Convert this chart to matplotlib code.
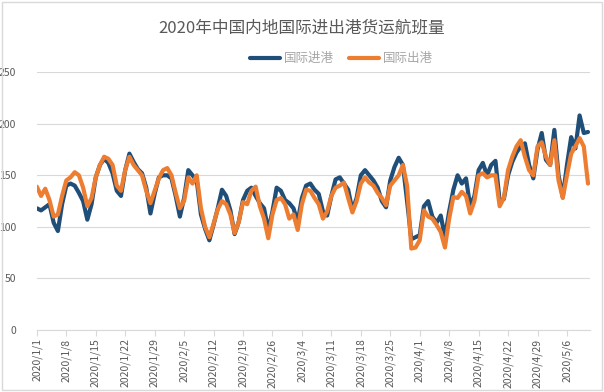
import numpy as np
import pandas as pd
import matplotlib
matplotlib.use("Agg")
import matplotlib.pyplot as plt
from matplotlib.patches import Rectangle

plt.rcParams["font.family"] = ["Noto Sans CJK SC", "DejaVu Sans"]

# 每日航班量，2020/1/1 起
start_date = "2020-01-01"
inbound = [
    118, 116, 119, 122, 104, 96, 122, 140, 142, 140,
    133, 125, 107, 122, 148, 160, 166, 162, 152, 135,
    130, 155, 171, 163, 156, 152, 138, 113, 132, 148,
    150, 150, 147, 130, 110, 128, 155, 150, 145, 112,
    98, 87, 102, 118, 136, 130, 116, 93, 105, 126,
    135, 138, 130, 123, 118, 97, 115, 138, 135, 126,
    123, 118, 105, 128, 140, 142, 136, 132, 115, 111,
    130, 146, 148, 142, 136, 116, 128, 150, 155, 150,
    145, 138, 125, 119, 145, 158, 167, 160, 125, 88,
    90, 92, 120, 125, 110, 104, 111, 90, 115, 136,
    150, 142, 147, 120, 130, 155, 162, 150, 160, 164,
    125, 127, 150, 163, 172, 178, 181, 160, 147, 175,
    191, 165, 160, 194, 150, 129, 160, 187, 176, 208,
    191, 192,
]
outbound = [
    139, 130, 137, 126, 110, 112, 130, 145, 148, 153,
    150, 138, 120, 128, 148, 160, 168, 166, 160, 140,
    135, 155, 168, 160, 155, 150, 135, 123, 135, 147,
    155, 157, 150, 133, 118, 125, 148, 142, 150, 118,
    100, 90, 103, 117, 125, 122, 112, 94, 105, 124,
    122, 135, 139, 120, 108, 89, 112, 126, 128, 122,
    108, 112, 97, 122, 136, 135, 128, 122, 108, 115,
    130, 138, 140, 143, 128, 114, 125, 142, 148, 143,
    140, 133, 128, 121, 140, 145, 150, 160, 140, 79,
    80, 87, 116, 110, 108, 102, 95, 80, 108, 129,
    128, 134, 130, 113, 125, 150, 152, 148, 150, 150,
    120, 128, 155, 168, 178, 184, 168, 155, 150, 178,
    182, 168, 160, 184, 145, 128, 150, 171, 178, 186,
    178, 142,
]
series_names = ["国际进港", "国际出港"]
title = "2020年中国内地国际进出港货运航班量"

dates = pd.date_range(start_date, periods=len(inbound), freq="D")
days = np.arange(len(dates))
tick_idx = days[::7]
tick_labels = [f"{d.year}/{d.month}/{d.day}" for d in dates[::7]]

fig = plt.figure(figsize=(6.04, 3.92), dpi=100)
ax = fig.add_axes([0.061, 0.158, 0.916, 0.658])

ax.plot(days, inbound, color="#1F4E79", lw=3.0, label=series_names[0],
        solid_joinstyle="round", solid_capstyle="round", zorder=3)
ax.plot(days, outbound, color="#ED7D31", lw=3.0, label=series_names[1],
        solid_joinstyle="round", solid_capstyle="round", zorder=4)

ax.set_xlim(0, 131.5)
ax.set_ylim(0, 250)
ax.set_yticks(range(0, 251, 50))
ax.grid(axis="y", color="#D9D9D9", lw=0.8)
ax.set_axisbelow(True)
for s in ["top", "right", "left"]:
    ax.spines[s].set_visible(False)
ax.spines["bottom"].set_color("#D9D9D9")
ax.tick_params(axis="y", length=0, labelsize=7.5, labelcolor="#595959", pad=15)
ax.set_xticks(tick_idx)
ax.set_xticklabels(tick_labels, rotation=90, fontsize=7.5, color="#595959")
ax.tick_params(axis="x", length=4, color="#D9D9D9", pad=2)

fig.text(0.5, 0.93, title, ha="center", va="center", fontsize=12, color="#595959")
fig.legend(loc="center", bbox_to_anchor=(0.565, 0.85), ncol=2, frameon=False,
           fontsize=9, labelcolor="#A6A6A6", handlelength=2.4, handletextpad=0.3,
           columnspacing=1.2)

fig.patches.append(Rectangle((0.004, 0.004), 0.992, 0.992, transform=fig.transFigure,
                             fill=False, edgecolor="#D9D9D9", lw=1))

fig.savefig("out.png", dpi=100)
